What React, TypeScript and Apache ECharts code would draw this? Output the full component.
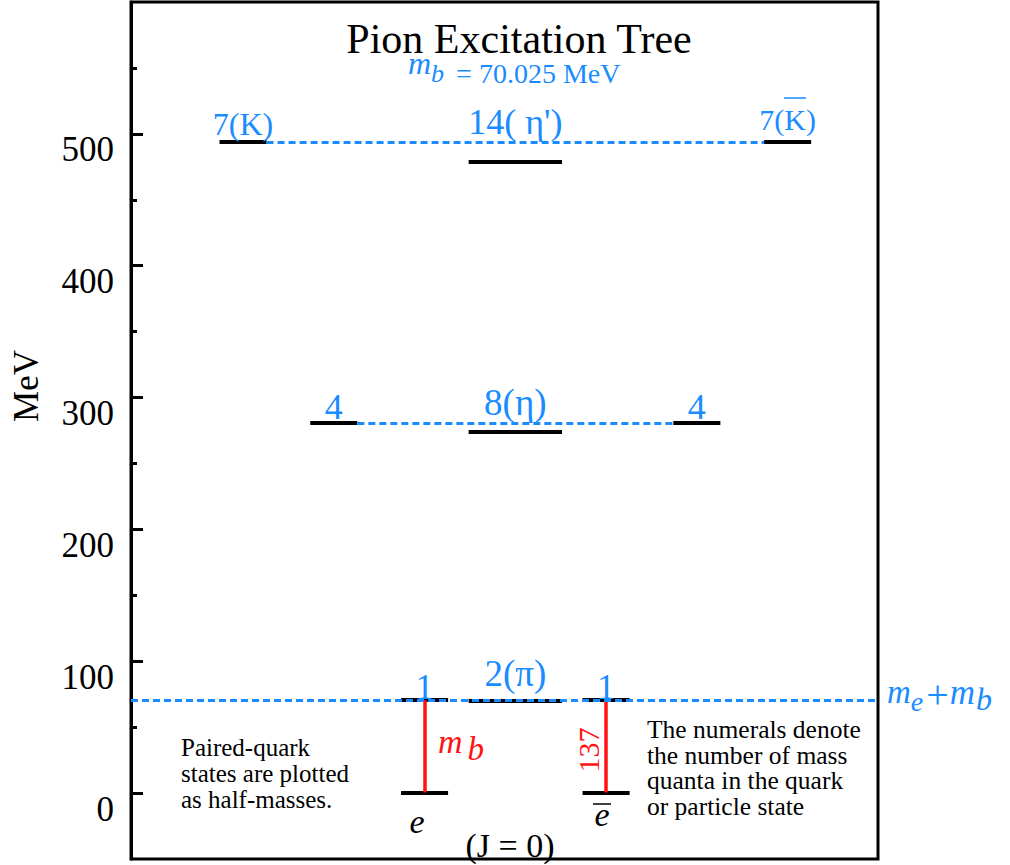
import React, { useEffect, useRef } from "react";
import * as echarts from "echarts";

// ---------- data ----------
const BLUE = "#1a8cff";
const RED = "#ff1212";
const FONT = "'Liberation Serif', 'Times New Roman', serif";

// horizontal column centres (arbitrary layout units on a 0..100 axis)
const columnCenters = [15.0, 27.15, 39.3, 51.45, 63.6, 75.75, 87.9];
const halfWidthNarrow = 3.15;
const halfWidthWide = 6.25;

// energy levels (MeV): e, e-bar, quark 1 (L), quark 1 (R), pi/2, 4 (L), 4 (R), eta/2, K, K-bar, eta'/2
const levelColumns = [2, 4, 2, 4, 3, 1, 5, 3, 0, 6, 3];
const levelMeV = [0.511, 0.511, 70.536, 70.536, 69.785, 280.6, 280.6, 273.9, 493.7, 493.7, 478.9];
const levelIsWide = [0, 0, 0, 0, 1, 0, 0, 1, 0, 0, 1];

// blue dashed connecting lines
const dashMeV = [70.536, 280.6, 493.7];
const dashFromColumn = [-1, 1, 0];
const dashToColumn = [-1, 5, 6];

// red quanta jumps (m_b)
const quantaColumns = [2, 4];
const quantaFromMeV = [0.511, 0.511];
const quantaToMeV = [70.536, 70.536];

// level labels
const labelTexts = ["7(K)", "14( η')", "7(K)", "4", "8(η)", "4", "1", "2(π)", "1"];
const labelColumns = [0, 3, 6, 1, 3, 5, 2, 3, 4];
const labelMeV = [493.7, 493.7, 493.7, 280.6, 280.6, 280.6, 70.536, 70.536, 70.536];
const labelFont = [32, 36, 30, 36, 37, 36, 36, 37, 36];
const labelLift = [2, 2, 7, -2, 2, -2, -5, 8, -5];

// y-axis ticks
const majorTicks = [0, 100, 200, 300, 400, 500];
const minorTicks = [50, 150, 250, 350, 450, 550];
const yMin = -50;
const yMax = 600;

export default function App() {
  const ref = useRef<HTMLDivElement>(null);

  useEffect(() => {
    if (!ref.current) return;
    const chart = echarts.init(ref.current, undefined, { renderer: "svg" });

    const levelData = levelMeV.map((v, i) => {
      const c = columnCenters[levelColumns[i]];
      const hw = levelIsWide[i] ? halfWidthWide : halfWidthNarrow;
      return { coords: [[c - hw, v], [c + hw, v]] };
    });

    const dashData = dashMeV.map((v, i) => {
      const x1 = dashFromColumn[i] < 0 ? 0 : columnCenters[dashFromColumn[i]] + halfWidthNarrow;
      const x2 = dashToColumn[i] < 0 ? 100 : columnCenters[dashToColumn[i]] - halfWidthNarrow;
      return { coords: [[x1, v], [x2, v]] };
    });

    const quantaData = quantaColumns.map((c, i) => ({
      coords: [[columnCenters[c], quantaFromMeV[i]], [columnCenters[c], quantaToMeV[i]]],
    }));

    const labelData = labelTexts.map((t, i) => ({
      name: t,
      value: [columnCenters[labelColumns[i]], labelMeV[i]],
      label: { fontSize: labelFont[i], offset: [0, -labelLift[i]] },
    }));

    const txt = (x: number, y: number, text: string, o: any = {}) => ({
      type: "text",
      x,
      y,
      rotation: o.rotation || 0,
      silent: true,
      z: 10,
      style: {
        text,
        fill: o.fill || "#000",
        fontSize: o.fontSize || 24,
        fontFamily: FONT,
        fontStyle: o.italic ? "italic" : "normal",
        align: o.align || "left",
        verticalAlign: o.verticalAlign || "middle",
        lineHeight: o.lineHeight,
        rich: o.rich,
      },
    });

    const tok = (fontSize: number, italic: boolean, padding: number[]) => ({
      fontSize,
      fontFamily: FONT,
      fontStyle: italic ? "italic" : "normal",
      lineHeight: 20,
      padding,
    });

    chart.setOption({
      animation: false,
      grid: {
        left: 131,
        right: 132,
        top: 2,
        bottom: 6,
        show: true,
        borderColor: "#000",
        borderWidth: 3,
        backgroundColor: "transparent",
      },
      xAxis: { type: "value", min: 0, max: 100, show: false },
      yAxis: [
        {
          type: "value",
          min: yMin,
          max: yMax,
          interval: 50,
          position: "left",
          splitLine: { show: false },
          axisLine: { show: true, lineStyle: { color: "#000", width: 3 } },
          axisTick: {
            show: true,
            inside: true,
            length: 12,
            customValues: majorTicks,
            lineStyle: { color: "#000", width: 3 },
          },
          axisLabel: {
            customValues: majorTicks,
            fontSize: 35,
            fontFamily: FONT,
            color: "#000",
            margin: 17,
            verticalAlign: "top",
            lineHeight: 32,
          },
        },
        {
          type: "value",
          min: yMin,
          max: yMax,
          interval: 50,
          position: "left",
          offset: 0,
          splitLine: { show: false },
          axisLine: { show: false },
          axisLabel: { show: false },
          axisTick: {
            show: true,
            inside: true,
            length: 6,
            customValues: minorTicks,
            lineStyle: { color: "#000", width: 3 },
          },
        },
      ],
      series: [
        {
          type: "lines",
          coordinateSystem: "cartesian2d",
          silent: true,
          z: 2,
          lineStyle: { color: "#000", width: 4, opacity: 1 },
          data: levelData,
        },
        {
          type: "lines",
          coordinateSystem: "cartesian2d",
          silent: true,
          z: 3,
          lineStyle: { color: RED, width: 3.5, opacity: 1 },
          data: quantaData,
        },
        {
          type: "lines",
          coordinateSystem: "cartesian2d",
          silent: true,
          z: 4,
          lineStyle: { color: BLUE, width: 3, type: [7, 4], opacity: 1 },
          data: dashData,
        },
        {
          type: "scatter",
          silent: true,
          z: 5,
          symbolSize: 1,
          itemStyle: { color: "rgba(255,255,255,0)", opacity: 1 },
          label: {
            show: true,
            position: "top",
            distance: 0,
            formatter: (p: any) => p.name,
            color: BLUE,
            opacity: 1,
            fontFamily: FONT,
          },
          data: labelData,
        },
      ],
      graphic: [
        txt(519, 39, "Pion Excitation Tree", { fontSize: 42, align: "center", lineHeight: 28 }),
        // subtitle m_b = 70.025 MeV
        txt(408, 58, "{m|m}{b|b}{t|= 70.025 MeV}", {
          fill: BLUE,
          verticalAlign: "top",
          rich: {
            m: tok(32, true, [0, 0, 10, 0]),
            b: tok(26, true, [10, 0, 0, 0]),
            t: tok(28, false, [10, 0, 0, 12]),
          },
        }),
        // y-axis name
        txt(26, 386, "MeV", { fontSize: 35, align: "center", rotation: Math.PI / 2 }),
        // K-bar overline
        {
          type: "line",
          silent: true,
          z: 10,
          shape: { x1: 784, y1: 98, x2: 806, y2: 98 },
          style: { stroke: BLUE, lineWidth: 1.5 },
        },
        // m_e + m_b at right
        txt(887, 686, "{m|m}{e|e}{p|+}{m2|m}{b|b}", {
          fill: BLUE,
          verticalAlign: "top",
          rich: {
            m: tok(33, true, [0, 0, 8, 0]),
            e: tok(28, true, [10, 2, 0, 0]),
            p: tok(40, false, [0, 1, 4, 1]),
            m2: tok(35, true, [0, 0, 8, 0]),
            b: tok(32, true, [6, 0, 0, 1]),
          },
        }),
        // m_b red
        txt(438, 735, "{m|m}{b|b}", {
          fill: RED,
          verticalAlign: "top",
          rich: {
            m: tok(34, true, [0, 5, 8, 0]),
            b: tok(33, true, [8, 0, 0, 0]),
          },
        }),
        // 137 rotated
        txt(588, 750, "137", { fontSize: 30, align: "center", rotation: Math.PI / 2, fill: RED }),
        // e, e-bar
        txt(417, 821, "e", { fontSize: 34, italic: true, align: "center" }),
        txt(602, 814, "e", { fontSize: 34, italic: true, align: "center" }),
        {
          type: "line",
          silent: true,
          z: 10,
          shape: { x1: 593, y1: 804, x2: 611, y2: 804 },
          style: { stroke: "#000", lineWidth: 1.5 },
        },
        // (J = 0)
        txt(510, 845, "(J = 0)", { fontSize: 34, align: "center" }),
        // notes
        txt(181, 734, "Paired-quark\nstates are plotted\nas half-masses.", {
          fontSize: 25,
          verticalAlign: "top",
          lineHeight: 26,
        }),
        txt(647, 717, "The numerals denote\nthe number of mass\nquanta in the quark\nor particle state", {
          fontSize: 25.5,
          verticalAlign: "top",
          lineHeight: 25.5,
        }),
      ],
    });

    return () => chart.dispose();
  }, []);

  return (
    <div
      ref={ref}
      style={{ position: "fixed", left: 0, top: 0, width: 1010, height: 865, background: "#fff" }}
    />
  );
}
